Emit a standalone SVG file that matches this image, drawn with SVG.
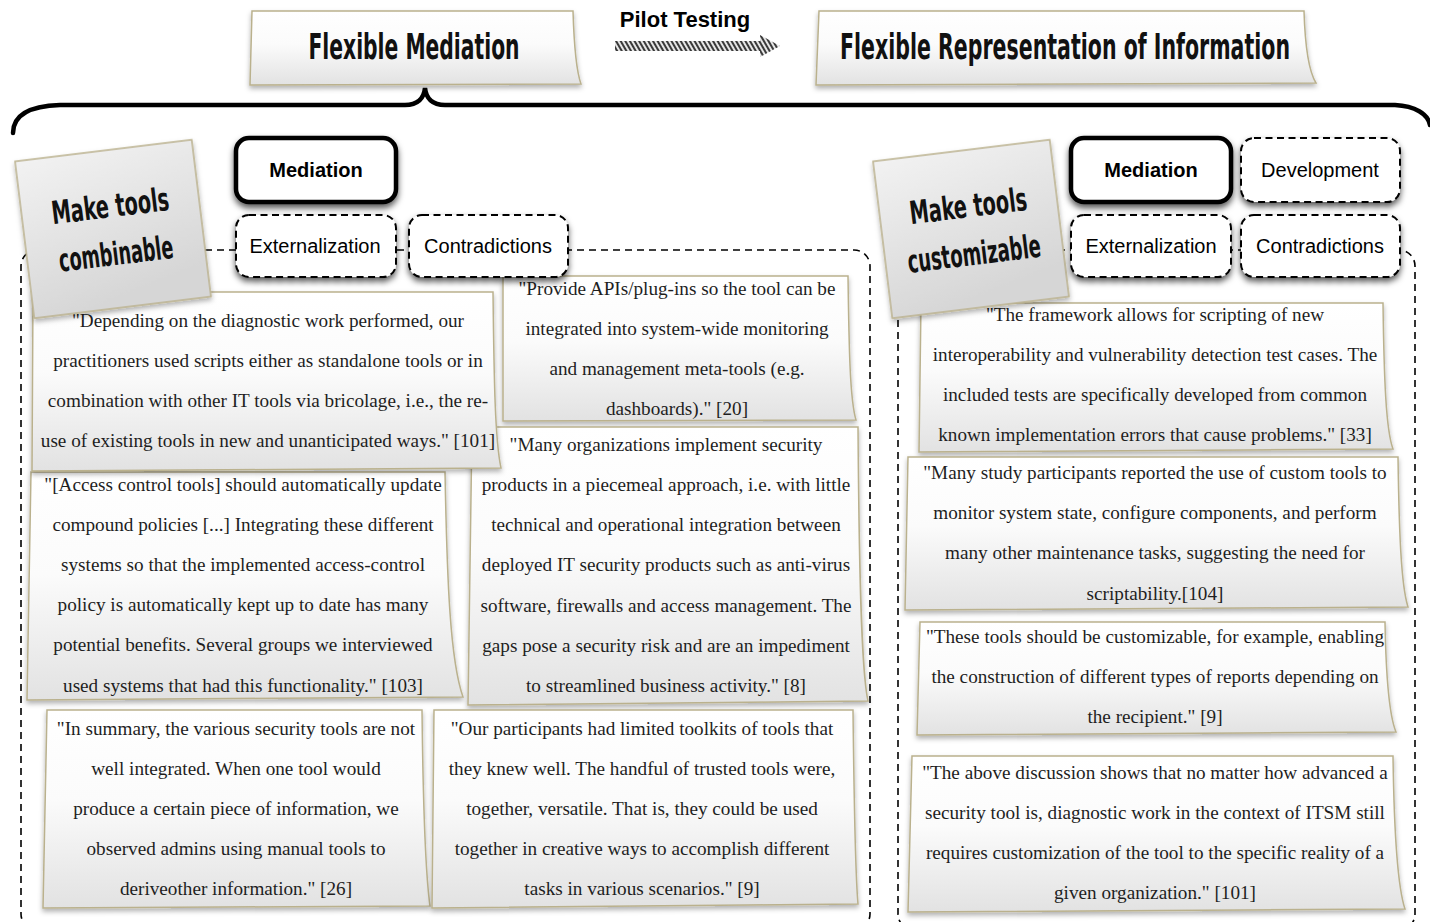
<svg xmlns="http://www.w3.org/2000/svg" width="1430" height="922" viewBox="0 0 1430 922">
  <defs>
    <style>
      .q { font-family: "Liberation Serif", "Times New Roman", serif; font-size: 19.2px; fill: #1e1e1e; text-anchor: middle; }
      .hand { font-family: "Liberation Sans Narrow", "DejaVu Sans Condensed", sans-serif; font-weight: bold; fill: #111; text-anchor: middle; }
      .lbl { font-family: "Liberation Sans", Arial, sans-serif; font-size: 20px; fill: #000; text-anchor: middle; }
      .pilot { font-family: "Liberation Sans", Arial, sans-serif; font-size: 22px; font-weight: bold; fill: #000; text-anchor: middle; }
      .note { fill: url(#paper); stroke: #bab18d; stroke-width: 1.5; filter: url(#noteShadow); }
      .tag { fill: url(#grayPaper); stroke: #bab18d; stroke-width: 1.5; filter: url(#noteShadow); }
      .box { fill: #fff; stroke: #000; filter: url(#boxShadow); }
      .solid { stroke-width: 4.5; }
      .dash { stroke-width: 2; stroke-dasharray: 7 4.5; }
      .frame { fill: none; stroke: #000; stroke-width: 1.6; stroke-dasharray: 7 5; }
    </style>
    <linearGradient id="paper" x1="0" y1="0" x2="0" y2="1">
      <stop offset="0" stop-color="#ffffff"/>
      <stop offset="0.45" stop-color="#fbfbfb"/>
      <stop offset="1" stop-color="#e2e2e2"/>
    </linearGradient>
    <linearGradient id="grayPaper" x1="0" y1="0" x2="0.3" y2="1">
      <stop offset="0" stop-color="#f2f2f2"/>
      <stop offset="1" stop-color="#d6d6d6"/>
    </linearGradient>
    <pattern id="hatch" width="4" height="4" patternUnits="userSpaceOnUse" patternTransform="rotate(-30)">
      <rect width="4" height="4" fill="#e6e6e6"/>
      <rect width="2" height="4" fill="#3a3a3a"/>
    </pattern>
    <filter id="noteShadow" x="-5%" y="-10%" width="110%" height="125%">
      <feDropShadow dx="0" dy="3" stdDeviation="2.5" flood-color="#000" flood-opacity="0.3"/>
    </filter>
    <filter id="boxShadow" x="-10%" y="-15%" width="120%" height="140%">
      <feDropShadow dx="0" dy="4" stdDeviation="3" flood-color="#000" flood-opacity="0.65"/>
    </filter>
  </defs>

  <rect width="1430" height="922" fill="#fff"/>

  <!-- title notes -->
  <g id="title-mediation">
    <path class="note" d="M252,11 H573 C574,45 576,70 581,84 L250,85 Z"/>
    <text class="hand" transform="translate(414,59) scale(1,1.3)" x="0" y="0" font-size="27" textLength="211" lengthAdjust="spacingAndGlyphs">Flexible Mediation</text>
  </g>
  <g id="title-representation">
    <path class="note" d="M819,11 H1304 C1305,45 1308,70 1316,83 L816,85 Z"/>
    <text class="hand" transform="translate(1065,59) scale(1,1.3)" x="0" y="0" font-size="27" textLength="450" lengthAdjust="spacingAndGlyphs">Flexible Representation of Information</text>
  </g>

  <!-- connectors: transition arrow and grouping brace -->
  <g id="connectors">
    <text class="pilot" x="685" y="27">Pilot Testing</text>
    <path d="M615,41 H760 V35 L780,46 L760,57 V51 H615 Z" fill="url(#hatch)"/>
    <path d="M13,133 C13,115 30,106 60,105 L405,105 C418,105 424,98 425,88 C426,98 432,105 445,105 L1395,105 C1415,106 1428,114 1430,125" fill="none" stroke="#000" stroke-width="4.5" stroke-linecap="round"/>
  </g>

  <!-- dashed group frames -->
  <g id="frame-combinable">
    <rect class="frame" x="21" y="250" width="849" height="680" rx="16"/>
  </g>
  <g id="frame-customizable">
    <rect class="frame" x="898" y="250" width="517" height="680" rx="16"/>
  </g>

  <!-- quotes: combinable -->
  <g id="quote-api">
    <path class="note" d="M503,276 H848 C849,350 850,400 856,420 L503,421 Z"/>
    <text class="q" x="677" y="295">"Provide APIs/plug-ins so the tool can be</text>
    <text class="q" x="677" y="335">integrated into system-wide monitoring</text>
    <text class="q" x="677" y="375">and management meta-tools (e.g.</text>
    <text class="q" x="677" y="415">dashboards)." [20]</text>
  </g>
  <g id="quote-piecemeal">
    <path class="note" d="M472,427 H858 C859,560 861,670 868,701 L468,705 Z"/>
    <text class="q" x="666" y="451">"Many organizations implement security</text>
    <text class="q" x="666" y="491">products in a piecemeal approach, i.e. with little</text>
    <text class="q" x="666" y="531">technical and operational integration between</text>
    <text class="q" x="666" y="571">deployed IT security products such as anti-virus</text>
    <text class="q" x="666" y="612">software, firewalls and access management. The</text>
    <text class="q" x="666" y="652">gaps pose a security risk and are an impediment</text>
    <text class="q" x="666" y="692">to streamlined business activity." [8]</text>
  </g>
  <g id="quote-access">
    <path class="note" d="M31,472 H445 C447,580 450,660 463,697 L27,700 Z"/>
    <text class="q" x="243" y="491">"[Access control tools] should automatically update</text>
    <text class="q" x="243" y="531">compound policies [...] Integrating these different</text>
    <text class="q" x="243" y="571">systems so that the implemented access-control</text>
    <text class="q" x="243" y="611">policy is automatically kept up to date has many</text>
    <text class="q" x="243" y="651">potential benefits. Several groups we interviewed</text>
    <text class="q" x="243" y="692">used systems that had this functionality." [103]</text>
  </g>
  <g id="quote-bricolage">
    <path class="note" d="M33,292 H493 C494,380 495,440 501,468 L32,471 Z"/>
    <text class="q" x="268" y="327">"Depending on the diagnostic work performed, our</text>
    <text class="q" x="268" y="367">practitioners used scripts either as standalone tools or in</text>
    <text class="q" x="268" y="407">combination with other IT tools via bricolage, i.e., the re-</text>
    <text class="q" x="268" y="447">use of existing tools in new and unanticipated ways." [101]</text>
  </g>
  <g id="quote-summary">
    <path class="note" d="M47,710 H422 C423,800 425,870 430,906 L43,908 Z"/>
    <text class="q" x="236" y="735">"In summary, the various security tools are not</text>
    <text class="q" x="236" y="775">well integrated. When one tool would</text>
    <text class="q" x="236" y="815">produce a certain piece of information, we</text>
    <text class="q" x="236" y="855">observed admins using manual tools to</text>
    <text class="q" x="236" y="895">deriveother information." [26]</text>
  </g>
  <g id="quote-toolkits">
    <path class="note" d="M434,710 H853 C854,800 855,870 858,904 L432,908 Z"/>
    <text class="q" x="642" y="735">"Our participants had limited toolkits of tools that</text>
    <text class="q" x="642" y="775">they knew well. The handful of trusted tools were,</text>
    <text class="q" x="642" y="815">together, versatile. That is, they could be used</text>
    <text class="q" x="642" y="855">together in creative ways to accomplish different</text>
    <text class="q" x="642" y="895">tasks in various scenarios." [9]</text>
  </g>

  <!-- quotes: customizable -->
  <g id="quote-framework">
    <path class="note" d="M921,303 H1383 C1384,380 1386,430 1393,449 L919,452 Z"/>
    <text class="q" x="1155" y="321">"The framework allows for scripting of new</text>
    <text class="q" x="1155" y="361">interoperability and vulnerability detection test cases. The</text>
    <text class="q" x="1155" y="401">included tests are specifically developed from common</text>
    <text class="q" x="1155" y="441">known implementation errors that cause problems." [33]</text>
  </g>
  <g id="quote-custom-tools">
    <path class="note" d="M908,457 H1398 C1399,530 1401,585 1408,607 L905,610 Z"/>
    <text class="q" x="1155" y="479">"Many study participants reported the use of custom tools to</text>
    <text class="q" x="1155" y="519">monitor system state, configure components, and perform</text>
    <text class="q" x="1155" y="559">many other maintenance tasks, suggesting the need for</text>
    <text class="q" x="1155" y="600">scriptability.[104]</text>
  </g>
  <g id="quote-reports">
    <path class="note" d="M920,622 H1385 C1386,680 1389,715 1396,732 L917,735 Z"/>
    <text class="q" x="1155" y="643">"These tools should be customizable, for example, enabling</text>
    <text class="q" x="1155" y="683">the construction of different types of reports depending on</text>
    <text class="q" x="1155" y="723">the recipient." [9]</text>
  </g>
  <g id="quote-itsm">
    <path class="note" d="M912,756 H1393 C1394,830 1397,885 1405,909 L908,912 Z"/>
    <text class="q" x="1155" y="779">"The above discussion shows that no matter how advanced a</text>
    <text class="q" x="1155" y="819">security tool is, diagnostic work in the context of ITSM still</text>
    <text class="q" x="1155" y="859">requires customization of the tool to the specific reality of a</text>
    <text class="q" x="1155" y="899">given organization." [101]</text>
  </g>

  <!-- tilted heading notes -->
  <g id="make-combinable" transform="translate(113,229) rotate(-7)">
    <rect class="tag" x="-89" y="-79" width="178" height="158"/>
    <text class="hand" x="0" y="-12" font-size="32" textLength="118" lengthAdjust="spacingAndGlyphs">Make tools</text>
    <text class="hand" x="0" y="36" font-size="32" textLength="115" lengthAdjust="spacingAndGlyphs">combinable</text>
  </g>
  <g id="make-customizable" transform="translate(971,229) rotate(-7)">
    <rect class="tag" x="-89" y="-79" width="178" height="158"/>
    <text class="hand" x="0" y="-12" font-size="32" textLength="118" lengthAdjust="spacingAndGlyphs">Make tools</text>
    <text class="hand" x="0" y="36" font-size="32" textLength="134" lengthAdjust="spacingAndGlyphs">customizable</text>
  </g>

  <!-- activity-theory labels: combinable -->
  <g id="l-mediation">
    <rect class="box solid" x="236" y="138" width="160" height="64" rx="13"/>
    <text class="lbl" x="316" y="177" font-weight="bold">Mediation</text>
  </g>
  <g id="l-externalization">
    <rect class="box dash" x="236" y="215" width="160" height="62" rx="13"/>
    <text class="lbl" x="315" y="253">Externalization</text>
  </g>
  <g id="l-contradictions">
    <rect class="box dash" x="409" y="215" width="159" height="62" rx="13"/>
    <text class="lbl" x="488" y="253">Contradictions</text>
  </g>

  <!-- activity-theory labels: customizable -->
  <g id="r-mediation">
    <rect class="box solid" x="1071" y="138" width="160" height="64" rx="13"/>
    <text class="lbl" x="1151" y="177" font-weight="bold">Mediation</text>
  </g>
  <g id="r-development">
    <rect class="box dash" x="1241" y="138" width="159" height="64" rx="13"/>
    <text class="lbl" x="1320" y="177">Development</text>
  </g>
  <g id="r-externalization">
    <rect class="box dash" x="1071" y="215" width="160" height="62" rx="13"/>
    <text class="lbl" x="1151" y="253">Externalization</text>
  </g>
  <g id="r-contradictions">
    <rect class="box dash" x="1241" y="215" width="159" height="62" rx="13"/>
    <text class="lbl" x="1320" y="253">Contradictions</text>
  </g>
</svg>
